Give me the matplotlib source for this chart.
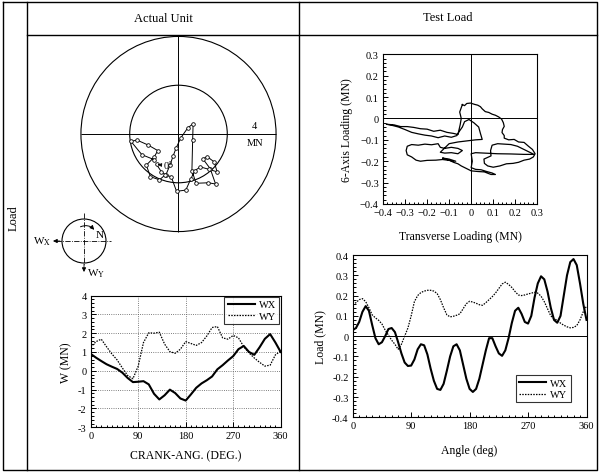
import numpy as np
import matplotlib
matplotlib.use("Agg")
import matplotlib.pyplot as plt
from matplotlib.patches import Circle, FancyArrowPatch
from matplotlib.ticker import MultipleLocator

plt.rcParams['font.family'] = ['Liberation Serif', 'DejaVu Serif']
plt.rcParams['mathtext.fontset'] = 'stix'
plt.rcParams['axes.unicode_minus'] = False

# ---- Actual unit: crank angle loads (MN), every 10 deg
crank_angle = np.arange(0, 361, 10)
crank_wx = [0.90, 0.70, 0.52, 0.35, 0.22, 0.10, -0.10, -0.38, -0.60, -0.58,
            -0.55, -0.72, -1.22, -1.52, -1.30, -1.00, -1.18, -1.47, -1.58, -1.25,
            -0.90, -0.67, -0.50, -0.30, 0.08, 0.30, 0.55, 0.78, 1.15, 1.32,
            1.00, 0.85, 1.25, 1.70, 1.95, 1.50, 1.00]
crank_wy = [1.25, 1.55, 1.68, 1.28, 0.90, 0.58, 0.15, -0.25, -0.42, 0.25,
            1.50, 2.02, 2.00, 2.05, 1.42, 1.02, 0.93, 1.15, 1.55, 1.45,
            1.35, 1.50, 1.85, 2.30, 2.35, 1.75, 1.68, 1.88, 1.75, 1.28,
            0.95, 0.68, 0.45, 0.25, 0.30, 0.85, 1.05]
ring_radii = [2, 4]

# ---- Test load: load vs angle (MN), every 5 deg
test_angle = np.arange(0, 361, 5)
test_wx = [0.03, 0.04, 0.07, 0.12, 0.148, 0.125, 0.055, -0.01, -0.04, -0.03,
           0.0, 0.035, 0.04, 0.02, -0.03, -0.085, -0.13, -0.147, -0.145, -0.115,
           -0.065, -0.04, -0.045, -0.09, -0.16, -0.22, -0.26, -0.265, -0.235, -0.17,
           -0.10, -0.05, -0.04, -0.07, -0.14, -0.21, -0.26, -0.275, -0.26, -0.21,
           -0.14, -0.07, -0.01, -0.01, -0.05, -0.085, -0.097, -0.07, -0.01, 0.065,
           0.125, 0.14, 0.11, 0.07, 0.062, 0.10, 0.19, 0.26, 0.295, 0.28,
           0.22, 0.14, 0.08, 0.066, 0.10, 0.20, 0.30, 0.365, 0.38, 0.35,
           0.26, 0.16, 0.08]
test_wy = [0.155, 0.165, 0.18, 0.185, 0.17, 0.14, 0.105, 0.09, 0.078, 0.06,
           0.03, 0.005, -0.02, -0.04, -0.065, -0.04, 0.0, 0.04, 0.10, 0.17,
           0.20, 0.215, 0.222, 0.226, 0.226, 0.222, 0.21, 0.18, 0.14, 0.105,
           0.095, 0.098, 0.103, 0.11, 0.135, 0.16, 0.172, 0.168, 0.162, 0.155,
           0.152, 0.165, 0.18, 0.195, 0.213, 0.235, 0.257, 0.266, 0.255, 0.24,
           0.22, 0.203, 0.20, 0.203, 0.208, 0.212, 0.216, 0.212, 0.197, 0.17,
           0.135, 0.10, 0.086, 0.078, 0.064, 0.054, 0.046, 0.041, 0.043, 0.052,
           0.08, 0.12, 0.148]

# ---- Test load locus: transverse vs 6-axis loading (MN)
loop_x = [-0.040, -0.030, -0.020, -0.003, 0.015, 0.030, 0.042, 0.050, 0.064, 0.080,
          0.095, 0.110, 0.125, 0.138, 0.146, 0.150, 0.142, 0.140, 0.150, 0.150,
          0.170, 0.195, 0.215, 0.240, 0.260, 0.278, 0.290, 0.282, 0.265, 0.240,
          0.215, 0.190, 0.160, 0.130, 0.100, 0.075, 0.060, 0.058, 0.075, 0.090,
          0.088, 0.095, 0.120, 0.150, 0.180, 0.210, 0.250, 0.285, 0.240, 0.180,
          0.120, 0.060, 0.020, 0.000, 0.005, 0.000, 0.020, 0.045, 0.070, 0.095,
          0.110, 0.090, 0.060, 0.030, 0.000, -0.020, -0.045, -0.060, -0.080, -0.100,
          -0.130, -0.100, -0.070, -0.130, -0.160, -0.200, -0.230, -0.250, -0.270, -0.290,
          -0.295, -0.290, -0.270, -0.240, -0.210, -0.180, -0.150, -0.140, -0.120, -0.090,
          -0.060, -0.040, -0.060, -0.090, -0.120, -0.140, -0.130, -0.100, -0.060, -0.020,
          0.020, 0.050, 0.042, 0.034, 0.012, -0.010, -0.030, -0.040, -0.055, -0.065,
          -0.090, -0.120, -0.150, -0.180, -0.210, -0.240, -0.270, -0.300, -0.330, -0.360,
          -0.385, -0.350, -0.320, -0.290, -0.260, -0.230, -0.200, -0.170, -0.140, -0.110,
          -0.080, -0.060, -0.050, -0.045, -0.052, -0.045, -0.040]
loop_y = [0.065, 0.060, 0.070, 0.072, 0.066, 0.062, 0.055, 0.045, 0.032, 0.028,
          0.020, 0.015, 0.007, -0.003, -0.020, -0.037, -0.052, -0.066, -0.080, -0.092,
          -0.100, -0.098, -0.110, -0.112, -0.130, -0.145, -0.165, -0.180, -0.190, -0.195,
          -0.205, -0.210, -0.212, -0.222, -0.228, -0.222, -0.210, -0.190, -0.182, -0.175,
          -0.150, -0.125, -0.118, -0.120, -0.122, -0.130, -0.150, -0.168, -0.168, -0.166,
          -0.165, -0.162, -0.160, -0.165, -0.200, -0.230, -0.238, -0.240, -0.248, -0.255,
          -0.262, -0.262, -0.250, -0.248, -0.245, -0.235, -0.222, -0.212, -0.205, -0.195,
          -0.185, -0.190, -0.200, -0.192, -0.195, -0.196, -0.200, -0.195, -0.180, -0.170,
          -0.150, -0.130, -0.122, -0.125, -0.120, -0.123, -0.118, -0.135, -0.140, -0.135,
          -0.140, -0.150, -0.165, -0.160, -0.162, -0.158, -0.148, -0.118, -0.110, -0.105,
          -0.100, -0.098, -0.070, -0.040, -0.020, -0.005, -0.015, -0.040, -0.062, -0.080,
          -0.088, -0.082, -0.090, -0.082, -0.078, -0.072, -0.065, -0.052, -0.040, -0.032,
          -0.027, -0.030, -0.038, -0.038, -0.042, -0.048, -0.050, -0.060, -0.055, -0.065,
          -0.070, -0.075, -0.030, 0.000, 0.030, 0.050, 0.065]

W, H = 600, 477
fig = plt.figure(figsize=(W / 100, H / 100), dpi=100)


def px_axes(left, top, right, bottom):
    return fig.add_axes([left / W, 1 - bottom / H, (right - left) / W, (bottom - top) / H])


def style_ticks(ax):
    ax.tick_params(which='both', direction='in', labelsize=7.5, width=0.7, pad=3)
    ax.tick_params(which='major', length=3.5)
    ax.tick_params(which='minor', length=1.8)
    for sp in ax.spines.values():
        sp.set_linewidth(0.8)


def mn_fmt(v, p):
    return '0' if abs(v) < 1e-9 else f'{v:.1f}'


# polar-type locus (WX to the left, WY downward)
ax_pol = px_axes(78.5, 35, 278.5, 235)
ax_pol.set_xlim(-4.1, 4.1)
ax_pol.set_ylim(-4.1, 4.1)
ax_pol.axis('off')
for r in ring_radii:
    ax_pol.add_patch(Circle((0, 0), r, fill=False, lw=0.8, color='black'))
ax_pol.hlines(0, -max(ring_radii), max(ring_radii), color='black', lw=0.7)
ax_pol.vlines(0, -max(ring_radii), max(ring_radii), color='black', lw=0.7)
px = -np.array(crank_wx)
py = -np.array(crank_wy)
ax_pol.plot(px, py, color='black', lw=0.7, marker='o', ms=2.6,
            mfc='white', mec='black', mew=0.6)
ax_pol.text(3.13, 0.33, '4', fontsize=7.5, ha='center', va='center')
ax_pol.text(3.13, -0.36, 'MN', fontsize=7.5, ha='center', va='center')
ax_pol.annotate('0°', xy=(px[0], py[0]), xytext=(-0.4, -1.3), fontsize=7.5,
                ha='center', va='center',
                arrowprops=dict(arrowstyle='-|>', lw=0.6, color='black',
                                mutation_scale=5, shrinkA=2, shrinkB=1))

# crank angle chart
ax_c = px_axes(90.7, 296.5, 280.7, 428.3)
ax_c.plot(crank_angle, crank_wx, color='black', lw=1.5, label='WX')
ax_c.plot(crank_angle, crank_wy, color='black', lw=0.9, ls=(0, (1.2, 1.0)), label='WY')
ax_c.set_xlim(0, 360)
ax_c.set_ylim(-3, 4)
ax_c.xaxis.set_major_locator(MultipleLocator(90))
ax_c.xaxis.set_minor_locator(MultipleLocator(10))
ax_c.yaxis.set_major_locator(MultipleLocator(1))
ax_c.yaxis.set_minor_locator(MultipleLocator(0.2))
ax_c.grid(True, which='major', ls=':', color='#555555', lw=0.6)
style_ticks(ax_c)
ax_c.set_xlabel('CRANK-ANG. (DEG.)', fontsize=8.5, labelpad=6)
ax_c.set_ylabel('W (MN)', fontsize=8.5, labelpad=4)
leg = ax_c.legend(loc='upper right', fontsize=7.5, frameon=True, fancybox=False,
                  borderaxespad=0.15, handlelength=2.6, handletextpad=0.4,
                  borderpad=0.3, labelspacing=0.2)
leg.get_frame().set_edgecolor('black')
leg.get_frame().set_linewidth(0.8)

# test load locus
ax_t = px_axes(383, 55.3, 537.3, 205)
ax_t.plot(loop_x, loop_y, color='black', lw=0.9)
ax_t.axhline(0, color='black', lw=0.7)
ax_t.axvline(0, color='black', lw=0.7)
ax_t.set_xlim(-0.4, 0.3)
ax_t.set_ylim(-0.4, 0.3)
ax_t.xaxis.set_major_locator(MultipleLocator(0.1))
ax_t.yaxis.set_major_locator(MultipleLocator(0.1))
ax_t.xaxis.set_minor_locator(MultipleLocator(0.02))
ax_t.yaxis.set_minor_locator(MultipleLocator(0.02))
ax_t.xaxis.set_major_formatter(lambda v, p: mn_fmt(v, p).replace('-', '\u2212'))
ax_t.yaxis.set_major_formatter(lambda v, p: mn_fmt(v, p).replace('-', '\u2212'))
style_ticks(ax_t)
ax_t.set_xlabel('Transverse Loading (MN)', fontsize=8.5, labelpad=9)
ax_t.set_ylabel('6-Axis Loading (MN)', fontsize=8.5, labelpad=5)

# test load vs angle
ax_l = px_axes(352.7, 256, 586.5, 418.3)
ax_l.plot(test_angle, test_wx, color='black', lw=1.5, label='WX')
ax_l.plot(test_angle, test_wy, color='black', lw=0.9, ls=(0, (1.2, 1.0)), label='WY')
ax_l.axhline(0, color='black', lw=0.7)
ax_l.set_xlim(0, 360)
ax_l.set_ylim(-0.4, 0.4)
ax_l.xaxis.set_major_locator(MultipleLocator(90))
ax_l.xaxis.set_minor_locator(MultipleLocator(10))
ax_l.yaxis.set_major_locator(MultipleLocator(0.1))
ax_l.yaxis.set_minor_locator(MultipleLocator(0.02))
ax_l.yaxis.set_major_formatter(mn_fmt)
style_ticks(ax_l)
ax_l.set_xlabel('Angle (deg)', fontsize=8.5, labelpad=10)
ax_l.set_ylabel('Load (MN)', fontsize=8.5, labelpad=4)
leg2 = ax_l.legend(loc='lower right', bbox_to_anchor=(0.955, 0.06), fontsize=7.5,
                   frameon=True, fancybox=False, handlelength=2.6, handletextpad=0.4,
                   borderpad=0.3, labelspacing=0.2)
leg2.get_frame().set_edgecolor('black')
leg2.get_frame().set_linewidth(0.8)

# overlay: table frame, headings, load direction sketch (pixel coordinates)
ov = fig.add_axes([0, 0, 1, 1])
ov.set_xlim(0, W)
ov.set_ylim(H, 0)
ov.axis('off')
frame = dict(color='black', lw=1.0)
ov.plot([3, 597, 597, 3, 3], [3, 3, 471, 471, 3], **frame)
ov.plot([27, 27], [3, 471], **frame)
ov.plot([299, 299], [3, 471], **frame)
ov.plot([27, 597], [36, 36], **frame)
ov.text(163, 19, 'Actual Unit', fontsize=9, ha='center', va='center')
ov.text(448, 18, 'Test Load', fontsize=9, ha='center', va='center')
ov.text(14, 218, 'Load', fontsize=9, ha='center', va='center', rotation=90)

cx, cy, cr = 84, 242, 22
ov.add_patch(Circle((cx, cy), cr, fill=False, lw=0.8, color='black'))
ov.plot([cx - cr - 6, cx + cr + 5], [cy, cy], color='black', lw=0.6, ls='-.')
ov.plot([cx, cx], [cy - cr - 6, cy + cr + 2], color='black', lw=0.6, ls='-.')
ov.annotate('', xy=(cx - cr - 9, cy), xytext=(cx - cr - 2, cy),
            arrowprops=dict(arrowstyle='-|>', lw=0.6, color='black', mutation_scale=6,
                            shrinkA=0, shrinkB=0))
ov.annotate('', xy=(cx, cy + cr + 9), xytext=(cx, cy + cr + 1),
            arrowprops=dict(arrowstyle='-|>', lw=0.6, color='black', mutation_scale=6,
                            shrinkA=0, shrinkB=0))
ov.add_patch(FancyArrowPatch((cx - 6, cy - 13), (cx + 12, cy - 9),
                             connectionstyle='arc3,rad=-0.45', arrowstyle='-|>',
                             mutation_scale=6, lw=0.7, color='black'))
ov.text(cx + 16, cy - 6, 'N', fontsize=8, ha='center', va='center')
ov.text(cx - cr - 11, cy, r'W$_{\mathrm{X}}$', fontsize=8, ha='right', va='center')
ov.text(cx + 3, cy + cr + 10, r'W$_{\mathrm{Y}}$', fontsize=8, ha='left', va='center')

fig.savefig('out.png', dpi=100)
